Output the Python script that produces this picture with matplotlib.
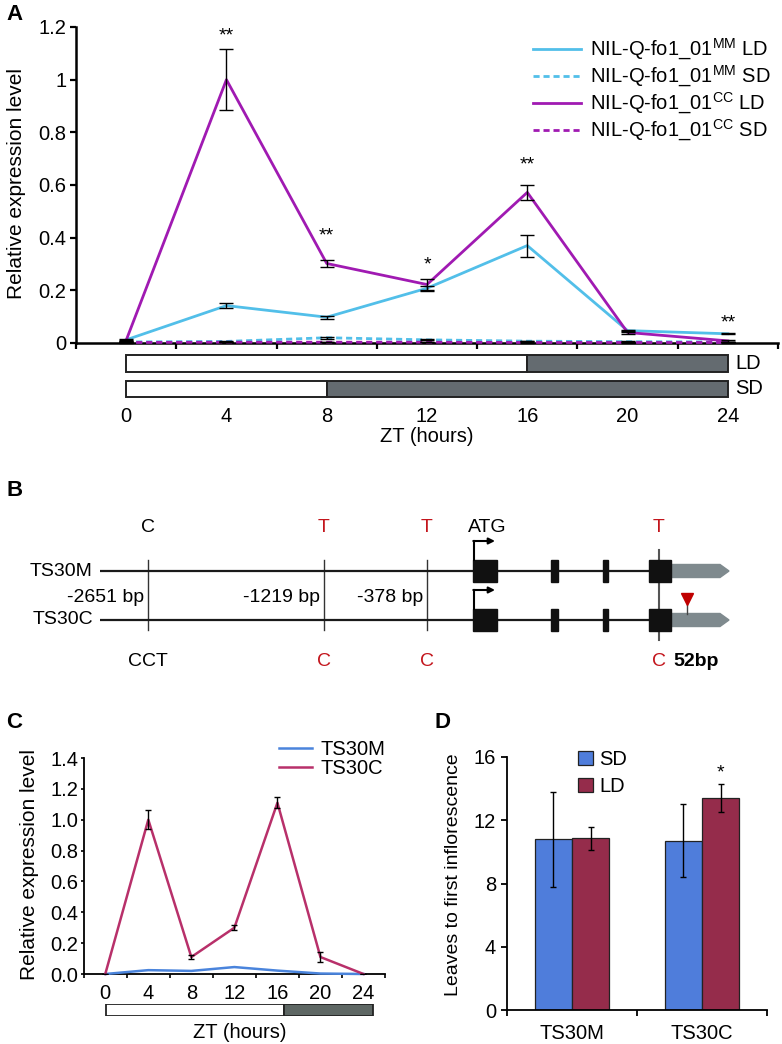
import matplotlib
matplotlib.use('Agg')
import matplotlib.pyplot as plt
from matplotlib.patches import Rectangle, Polygon
from matplotlib.lines import Line2D
import numpy as np

plt.rcParams['font.family'] = ['Liberation Sans', 'DejaVu Sans']
plt.rcParams['mathtext.fontset'] = 'custom'
plt.rcParams['mathtext.rm'] = 'Liberation Sans'
plt.rcParams['mathtext.it'] = 'Liberation Sans:italic'
plt.rcParams['mathtext.bf'] = 'Liberation Sans:bold'
plt.rcParams['font.size'] = 14

W, H = 782, 1044
fig = plt.figure(figsize=(W / 100, H / 100), dpi=100)


def px_axes(l, t, r, b):
    return fig.add_axes([l / W, 1 - b / H, (r - l) / W, (b - t) / H])


# ------------------------------------------------------------------ data
zt = [0, 4, 8, 12, 16, 20, 24]

# Panel A
a_mm_ld = [0.012, 0.142, 0.098, 0.208, 0.370, 0.047, 0.035]
a_mm_ld_err = [0.004, 0.009, 0.006, 0.010, 0.042, 0.004, 0.002]
a_mm_sd = [0.004, 0.006, 0.020, 0.012, 0.007, 0.005, 0.004]
a_mm_sd_err = [0.001, 0.001, 0.003, 0.002, 0.001, 0.001, 0.001]
a_cc_ld = [0.010, 1.000, 0.302, 0.222, 0.572, 0.040, 0.008]
a_cc_ld_err = [0.003, 0.115, 0.015, 0.020, 0.028, 0.005, 0.003]
a_cc_sd = [0.002, 0.003, 0.003, 0.003, 0.002, 0.002, 0.002]
a_cc_sd_err = [0.001, 0.001, 0.001, 0.001, 0.001, 0.001, 0.001]
a_sig = ['', '**', '**', '*', '**', '', '**']
a_sig_y = [0, 1.19, 0.43, 0.32, 0.70, 0, 0.10]
a_labels = [r'NIL-Q-fo1_01$^{\rm MM}$ LD', r'NIL-Q-fo1_01$^{\rm MM}$ SD',
            r'NIL-Q-fo1_01$^{\rm CC}$ LD', r'NIL-Q-fo1_01$^{\rm CC}$ SD']
photoperiods = ['LD', 'SD']
light_hours = [16, 8]
day_hours = 24

# Panel B
b_lines = ['TS30M', 'TS30C']
b_positions = ['-2651 bp', '-1219 bp', '-378 bp']
b_top_alleles = ['C', 'T', 'T', 'T']
b_bottom_alleles = ['CCT', 'C', 'C', 'C']
b_allele_is_snp = [False, True, True, True]
b_indel = '52bp'

# Panel C
c_ts30m = [0.0, 0.025, 0.020, 0.045, 0.022, 0.003, 0.0]
c_ts30c = [0.0, 1.00, 0.11, 0.30, 1.11, 0.11, 0.0]
c_ts30c_err = [0.0, 0.06, 0.01, 0.015, 0.035, 0.035, 0.0]
c_light_hours = 16

# Panel D
d_lines = ['TS30M', 'TS30C']
d_sd = [10.8, 10.7]
d_sd_err = [3.0, 2.3]
d_ld = [10.85, 13.4]
d_ld_err = [0.75, 0.9]
d_sig = ['', '*']

# ------------------------------------------------------------------ colours
MM = '#52bfe9'
CC = '#a01ab2'
DARK_A = '#646b70'
C_M = '#4a84dc'
C_C = '#b8306a'
DARK_C = '#5e6764'
D_SD = '#4f7ddb'
D_LD = '#952c4b'
RED = '#c3151c'
EDGE = '#222222'

# ------------------------------------------------------------------ panel B (schematic, full-figure axes in pixel units)
axB = fig.add_axes([0, 0, 1, 1])
axB.set_xlim(0, W)
axB.set_ylim(H, 0)
axB.axis('off')

row_y = [571, 620]
snp_x = [148, 324, 427, 659]
exons = [(473, 24), (551, 7), (603, 5), (649, 22)]
for name, y in zip(b_lines, row_y):
    axB.plot([100, 671], [y, y], color='#1a1a1a', lw=1.6, zorder=2,
             solid_capstyle='butt')
    for x0, w in exons:
        axB.add_patch(Rectangle((x0, y - 11), w, 22, color='#111111', zorder=4))
    axB.add_patch(Polygon([(671, y - 6.5), (720, y - 6.5), (729, y),
                           (720, y + 6.5), (671, y + 6.5)],
                          closed=True, color='#7f8a8e', zorder=3))
    axB.plot([474, 474], [y - 11, y - 30], color='black', lw=1.5, zorder=4)
    axB.annotate('', xy=(495, y - 30), xytext=(473.3, y - 30),
                 arrowprops=dict(arrowstyle='-|>', lw=1.5, color='black',
                                 mutation_scale=9, shrinkA=0, shrinkB=0),
                 zorder=4)
    axB.text(93, y, name, ha='right', va='center', fontsize=14)

for x in snp_x[:3]:
    axB.plot([x, x], [560, 630], color='#333333', lw=1.0, zorder=1)
axB.plot([snp_x[3], snp_x[3]], [550, 640], color='#555555', lw=1.5, zorder=1)

for x, top, bot, snp in zip(snp_x, b_top_alleles, b_bottom_alleles, b_allele_is_snp):
    col = RED if snp else 'black'
    axB.text(x, 528, top, ha='center', va='center', color=col, fontsize=14)
    axB.text(x, 661, bot, ha='center', va='center', color=col, fontsize=14)
axB.text(487, 528, 'ATG', ha='center', va='center', fontsize=14)
for x, lab in zip(snp_x[:3], b_positions):
    axB.text(x - 4, 597, lab, ha='right', va='center', fontsize=14)
axB.text(673, 661, b_indel, ha='left', va='center', fontsize=14, fontweight='bold')
axB.plot([687, 687], [603, 614], color='#444444', lw=1.0, zorder=3)
axB.plot([687], [599], marker='v', ms=9, color='#c00000', zorder=5)

# panel letters
for lab, x, y in [('A', 6, 14), ('B', 6, 490), ('C', 6, 723), ('D', 434, 723)]:
    axB.text(x, y, lab, ha='left', va='center', fontsize=16, fontweight='bold')

# ------------------------------------------------------------------ panel A
axA = px_axes(76, 27, 778, 343)
axA.set_facecolor('none')
bounds = [z - 2 for z in zt] + [zt[-1] + 2]
series = [(a_mm_ld, a_mm_ld_err, MM, '-'), (a_mm_sd, a_mm_sd_err, MM, (0, (2.2, 1.4))),
          (a_cc_ld, a_cc_ld_err, CC, '-'), (a_cc_sd, a_cc_sd_err, CC, (0, (2.2, 1.4)))]
handles = []
for (vals, errs, col, ls), lab in zip(series, a_labels):
    axA.plot(zt, vals, color=col, lw=2.0, ls=ls, clip_on=False, zorder=3)
    handles.append(Line2D([], [], color=col, lw=2.0, ls=ls))
    axA.errorbar(zt, vals, yerr=errs, fmt='none', ecolor='black', elinewidth=1.0,
                 capsize=5, capthick=1.0, clip_on=False, zorder=4)
for x, s, y in zip(zt, a_sig, a_sig_y):
    if s:
        axA.annotate(s, (x, y), xytext=(0, -8), textcoords='offset points',
                     ha='center', va='baseline', fontsize=14)
axA.set_xlim(bounds[0], bounds[-1])
axA.set_ylim(0, 1.2)
axA.set_xticks(bounds)
axA.set_xticklabels([])
axA.set_yticks([0, 0.2, 0.4, 0.6, 0.8, 1.0, 1.2])
axA.set_yticklabels(['0', '0.2', '0.4', '0.6', '0.8', '1', '1.2'])
axA.tick_params(axis='both', direction='out', length=4, width=1.6, labelsize=14.5, pad=3)
for sp in ['top', 'right']:
    axA.spines[sp].set_visible(False)
for sp in ['left', 'bottom']:
    axA.spines[sp].set_linewidth(1.8)
axA.legend(handles, a_labels, loc='upper left', frameon=False,
           bbox_to_anchor=(533 / W, 1 - 37 / H), bbox_transform=fig.transFigure,
           handlelength=2.4, handletextpad=0.45, labelspacing=0.08,
           borderpad=0, borderaxespad=0, fontsize=14.5)
fig.text(17 / W, 1 - 184 / H, 'Relative expression level', rotation=90,
         ha='center', va='center', fontsize=15)

# photoperiod bars A
axAb = px_axes(76, 352, 778, 400)
axAb.set_facecolor('none')
axAb.set_xlim(bounds[0], bounds[-1])
axAb.set_ylim(48, 0)
for yc, hgt, lab, lh in zip([11.5, 37], [17, 16], photoperiods, light_hours):
    axAb.barh(yc, lh, left=0, height=hgt, color='white', edgecolor=EDGE, lw=1.4)
    axAb.barh(yc, day_hours - lh, left=lh, height=hgt, color=DARK_A, edgecolor=EDGE, lw=1.4)
    axAb.text(day_hours + 0.3, yc, lab, ha='left', va='center', fontsize=14.5)
for sp in axAb.spines.values():
    sp.set_visible(False)
axAb.set_yticks([])
axAb.set_xticks(zt)
axAb.set_xticklabels([str(z) for z in zt])
axAb.tick_params(axis='x', length=0, pad=5, labelsize=14.5)
axAb.set_xlabel('ZT (hours)', fontsize=14.5, labelpad=1)

# ------------------------------------------------------------------ panel C
axC = px_axes(83.75, 758, 385, 974)
axC.set_facecolor('none')
axC.plot(zt, c_ts30m, color=C_M, lw=1.8, clip_on=False, label='TS30M', zorder=3)
axC.plot(zt, c_ts30c, color=C_C, lw=1.8, clip_on=False, label='TS30C', zorder=3)
axC.errorbar(zt, c_ts30c, yerr=c_ts30c_err, fmt='none', ecolor='black',
             elinewidth=1.0, capsize=2.5, capthick=1.0, zorder=4)
axC.set_xlim(-2, 25.1)
axC.set_ylim(0, 1.4)
axC.set_xticks(zt)
axC.set_xticklabels([str(z) for z in zt])
axC.set_xticks(bounds, minor=True)
axC.tick_params(axis='x', which='major', length=0, pad=7, labelsize=14.5)
axC.tick_params(axis='x', which='minor', direction='out', length=3, width=1.2)
axC.set_yticks([0, 0.2, 0.4, 0.6, 0.8, 1.0, 1.2, 1.4])
axC.set_yticklabels(['%.1f' % v for v in [0, 0.2, 0.4, 0.6, 0.8, 1.0, 1.2, 1.4]])
axC.tick_params(axis='y', direction='out', length=2.5, width=1.2, pad=1.5, labelsize=14.5)
for sp in ['top', 'right']:
    axC.spines[sp].set_visible(False)
for sp in ['left', 'bottom']:
    axC.spines[sp].set_linewidth(1.3)
axC.legend(loc='upper left', frameon=False, bbox_to_anchor=(279 / W, 1 - 740 / H),
           bbox_transform=fig.transFigure, handlelength=1.65, handletextpad=0.4,
           labelspacing=0.0, borderpad=0, borderaxespad=0, fontsize=14.5)
fig.text(30 / W, 1 - 865 / H, 'Relative expression level', rotation=90,
         ha='center', va='center', fontsize=15)

axCb = px_axes(83.75, 1004, 385, 1016)
axCb.set_facecolor('none')
axCb.set_xlim(-2, 25.1)
axCb.set_ylim(0, 1)
axCb.barh(0.5, c_light_hours, left=0, height=1, color='white', edgecolor=EDGE, lw=1.3)
axCb.barh(0.5, day_hours - c_light_hours, left=c_light_hours, height=1,
          color=DARK_C, edgecolor=EDGE, lw=1.3)
axCb.axis('off')
axCb.text(day_hours / 2, 1 - (1033 - 1004) / 12, 'ZT (hours)', ha='center',
          va='center', fontsize=14.5, transform=axCb.transData)

# ------------------------------------------------------------------ panel D
axD = px_axes(507, 757, 767, 1010)
axD.set_facecolor('none')
xd = np.arange(len(d_lines))
bw = 0.285
axD.bar(xd - bw / 2, d_sd, bw, color=D_SD, edgecolor=EDGE, lw=0.9, label='SD',
        yerr=d_sd_err, error_kw=dict(ecolor='black', elinewidth=1.0, capsize=2, capthick=1.0))
axD.bar(xd + bw / 2, d_ld, bw, color=D_LD, edgecolor=EDGE, lw=0.9, label='LD',
        yerr=d_ld_err, error_kw=dict(ecolor='black', elinewidth=1.0, capsize=2, capthick=1.0))
for x, s, v, e in zip(xd, d_sig, d_ld, d_ld_err):
    if s:
        axD.annotate(s, (x + bw / 2, v + e), xytext=(0, 4.3), textcoords='offset points',
                     ha='center', va='baseline', fontsize=14)
axD.set_xlim(-0.5, len(d_lines) - 0.5)
axD.set_ylim(0, 16)
axD.set_xticks(xd)
axD.set_xticklabels(d_lines)
axD.set_xticks(np.arange(len(d_lines) + 1) - 0.5, minor=True)
axD.tick_params(axis='x', which='major', length=0, pad=10, labelsize=14.5)
axD.tick_params(axis='x', which='minor', direction='out', length=4, width=1.3)
axD.set_yticks([0, 4, 8, 12, 16])
axD.tick_params(axis='y', direction='out', length=4, width=1.3, pad=4, labelsize=14.5)
for sp in ['top', 'right']:
    axD.spines[sp].set_visible(False)
for sp in ['left', 'bottom']:
    axD.spines[sp].set_linewidth(1.3)
axD.legend(loc='upper left', frameon=False, bbox_to_anchor=(578 / W, 1 - 750 / H),
           bbox_transform=fig.transFigure, handlelength=0.75, handleheight=0.75,
           handletextpad=0.3, labelspacing=0.4, borderpad=0, borderaxespad=0, fontsize=14.5)
fig.text(453 / W, 1 - 875 / H, 'Leaves to first inflorescence', rotation=90,
         ha='center', va='center', fontsize=14)

fig.savefig('out.png', dpi=100)
